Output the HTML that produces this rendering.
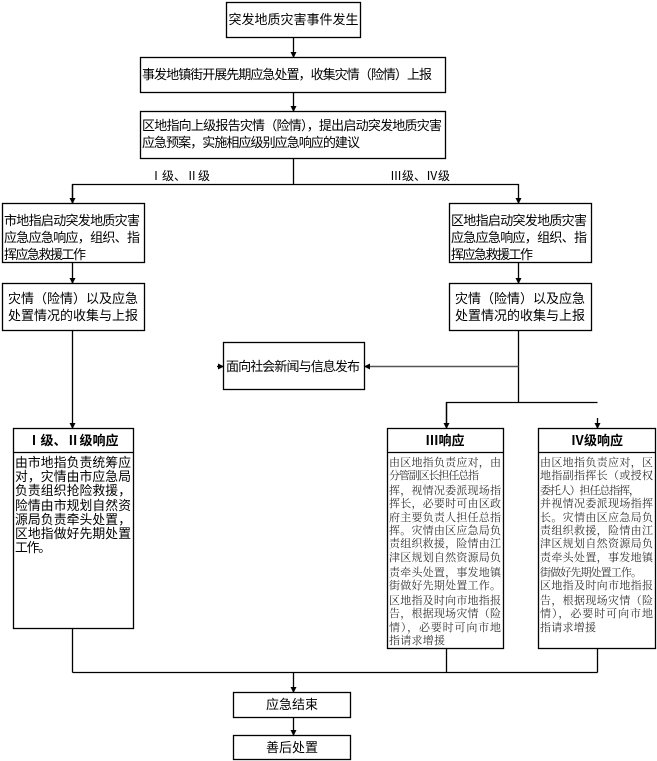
<!DOCTYPE html>
<html><head><meta charset="utf-8"><style>
html,body{margin:0;padding:0;background:#fff;}
svg{display:block;}
text{font-family:"Liberation Sans","Noto Sans CJK SC",sans-serif;fill:#000;}
.s{font-family:"Liberation Serif","Noto Serif CJK SC",serif;fill:#333;}
</style></head><body>
<svg width="657" height="761" viewBox="0 0 657 761" xmlns="http://www.w3.org/2000/svg">
<defs><marker id="a" markerWidth="6" markerHeight="6" refX="5" refY="3" orient="auto" markerUnits="userSpaceOnUse"><path d="M0,0 L6,3 L0,6 z" fill="#000"/></marker></defs>
<g fill="none" stroke="#000" stroke-width="1.3">
<rect x="226.5" y="2.5" width="134" height="35"/>
<rect x="140.5" y="57.5" width="305" height="35"/>
<rect x="140.5" y="111.5" width="305" height="47"/>
<rect x="2.5" y="203.5" width="142" height="59"/>
<rect x="449.5" y="203.5" width="142" height="59"/>
<rect x="2.5" y="283.5" width="142" height="47"/>
<rect x="449.5" y="283.5" width="142" height="47"/>
<rect x="223.5" y="342.5" width="141" height="47"/>
<rect x="13.5" y="428.5" width="120" height="200"/>
<line x1="13.5" y1="452.5" x2="133.5" y2="452.5"/>
<rect x="387.5" y="428.5" width="116" height="220"/>
<line x1="387.5" y1="452.5" x2="503.5" y2="452.5"/>
<rect x="538.5" y="428.5" width="117" height="220"/>
<line x1="538.5" y1="452.5" x2="655.5" y2="452.5"/>
<rect x="233.5" y="692.5" width="117" height="25"/>
<rect x="233.5" y="735.5" width="117" height="24"/>
<line x1="293.5" y1="37" x2="293.5" y2="57" marker-end="url(#a)"/>
<line x1="293.5" y1="92" x2="293.5" y2="111" marker-end="url(#a)"/>
<line x1="293.5" y1="158" x2="293.5" y2="184.5"/>
<polyline points="72.5,203 72.5,184.5 518.5,184.5 518.5,203" marker-end="url(#a)"/>
<line x1="72.5" y1="184.5" x2="72.5" y2="203" marker-end="url(#a)"/>
<line x1="72.5" y1="262" x2="72.5" y2="283" marker-end="url(#a)"/>
<line x1="518.5" y1="262" x2="518.5" y2="283" marker-end="url(#a)"/>
<line x1="72.5" y1="330" x2="72.5" y2="428" marker-end="url(#a)"/>
<line x1="518.5" y1="330" x2="518.5" y2="402.5"/>
<line x1="518.5" y1="366.5" x2="365" y2="366.5" stroke="#555" stroke-width="1.6" marker-end="url(#a)"/>
<line x1="217" y1="366.5" x2="223" y2="366.5" marker-end="url(#a)"/>
<polyline points="446.5,428 446.5,402.5 597.5,402.5"/>
<line x1="446.5" y1="402.5" x2="446.5" y2="428" marker-end="url(#a)"/>
<line x1="597.5" y1="418" x2="597.5" y2="428" marker-end="url(#a)"/>
<line x1="72.5" y1="628" x2="72.5" y2="672.5"/>
<line x1="446.5" y1="648" x2="446.5" y2="672.5"/>
<line x1="597.5" y1="648" x2="597.5" y2="672.5"/>
<line x1="72.5" y1="672.5" x2="597.5" y2="672.5"/>
<line x1="293.5" y1="672.5" x2="293.5" y2="692" marker-end="url(#a)"/>
<line x1="293.5" y1="717" x2="293.5" y2="735" marker-end="url(#a)"/>
</g>
<g font-size="13">
<text x="293.5" y="24" text-anchor="middle">突发地质灾害事件发生</text>
<text x="142" y="79" textLength="290">事发地镇街开展先期应急处置，收集灾情（险情）上报</text>
<text x="142" y="130" textLength="300">区地指向上级报告灾情（险情），提出启动突发地质灾害</text>
<text x="142" y="147" textLength="218">应急预案，实施相应级别应急响应的建议</text>
<text x="150" y="180" font-size="12" font-family="Liberation Serif,Noto Serif CJK SC,serif">Ⅰ级、Ⅱ级</text>
<text x="390" y="180" font-size="12" font-family="Liberation Serif,Noto Serif CJK SC,serif">Ⅲ级、Ⅳ级</text>
<text x="4" y="225" textLength="136">市地指启动突发地质灾害</text>
<text x="4" y="242" textLength="136">应急应急响应，组织、指</text>
<text x="4" y="259" textLength="82">挥应急救援工作</text>
<text x="451" y="225" textLength="136">区地指启动突发地质灾害</text>
<text x="451" y="242" textLength="136">应急应急响应，组织、指</text>
<text x="451" y="259" textLength="82">挥应急救援工作</text>
<text x="73" y="303" text-anchor="middle">灾情（险情）以及应急</text>
<text x="73" y="320" text-anchor="middle">处置情况的收集与上报</text>
<text x="520" y="303" text-anchor="middle">灾情（险情）以及应急</text>
<text x="520" y="320" text-anchor="middle">处置情况的收集与上报</text>
<text x="226" y="371" textLength="134">面向社会新闻与信息发布</text>
<text x="292" y="709" text-anchor="middle">应急结束</text>
<text x="292" y="752" text-anchor="middle">善后处置</text>
</g>
<g font-size="13" font-weight="bold" font-family="Liberation Serif,Noto Serif CJK SC,serif" text-anchor="middle">
<text x="73" y="445">Ⅰ级、Ⅱ级响应</text>
<text x="445" y="445">Ⅲ响应</text>
<text x="597" y="445">Ⅳ级响应</text>
</g>
<g font-size="12.8">
<text x="15" y="467" textLength="116">由市地指负责统筹应</text>
<text x="15" y="481" textLength="116">对，灾情由市应急局</text>
<text x="15" y="495" textLength="116">负责组织抢险救援，</text>
<text x="15" y="510" textLength="116">险情由市规划自然资</text>
<text x="15" y="524" textLength="116">源局负责牵头处置，</text>
<text x="15" y="538" textLength="116">区地指做好先期处置</text>
<text x="15" y="552" textLength="36">工作。</text>
</g>
<g font-size="11">
<text class="s" x="389" y="466" textLength="112">由区地指负责应对，由</text>
<text class="s" x="389" y="479" textLength="90">分管副区长担任总指</text>
<text class="s" x="389" y="494" textLength="112">挥，视情况委派现场指</text>
<text class="s" x="389" y="507" textLength="112">挥长，必要时可由区政</text>
<text class="s" x="389" y="521" textLength="112">府主要负责人担任总指</text>
<text class="s" x="389" y="534" textLength="112">挥。灾情由区应急局负</text>
<text class="s" x="389" y="547" textLength="112">责组织救援，险情由江</text>
<text class="s" x="389" y="561" textLength="112">津区规划自然资源局负</text>
<text class="s" x="389" y="576" textLength="112">责牵头处置，事发地镇</text>
<text class="s" x="389" y="589" textLength="112">街做好先期处置工作。</text>
<text class="s" x="389" y="604" textLength="112">区地指及时向市地指报</text>
<text class="s" x="389" y="617" textLength="112">告，根据现场灾情（险</text>
<text class="s" x="389" y="631" textLength="112">情），必要时可向市地</text>
<text class="s" x="389" y="644" textLength="56">指请求增援</text>
<text class="s" x="540" y="466" textLength="113">由区地指负责应对，区</text>
<text class="s" x="540" y="479" textLength="113">地指副指挥长（或授权</text>
<text class="s" x="540" y="494" textLength="100">委托人）担任总指挥，</text>
<text class="s" x="540" y="507" textLength="113">并视情况委派现场指挥</text>
<text class="s" x="540" y="521" textLength="113">长。灾情由区应急局负</text>
<text class="s" x="540" y="534" textLength="113">责组织救援，险情由江</text>
<text class="s" x="540" y="547" textLength="113">津区规划自然资源局负</text>
<text class="s" x="540" y="561" textLength="113">责牵头处置，事发地镇</text>
<text class="s" x="540" y="576" textLength="102">街做好先期处置工作。</text>
<text class="s" x="540" y="589" textLength="113">区地指及时向市地指报</text>
<text class="s" x="540" y="604" textLength="113">告，根据现场灾情（险</text>
<text class="s" x="540" y="617" textLength="113">情），必要时可向市地</text>
<text class="s" x="540" y="631" textLength="56">指请求增援</text>
</g>
</svg>
</body></html>
